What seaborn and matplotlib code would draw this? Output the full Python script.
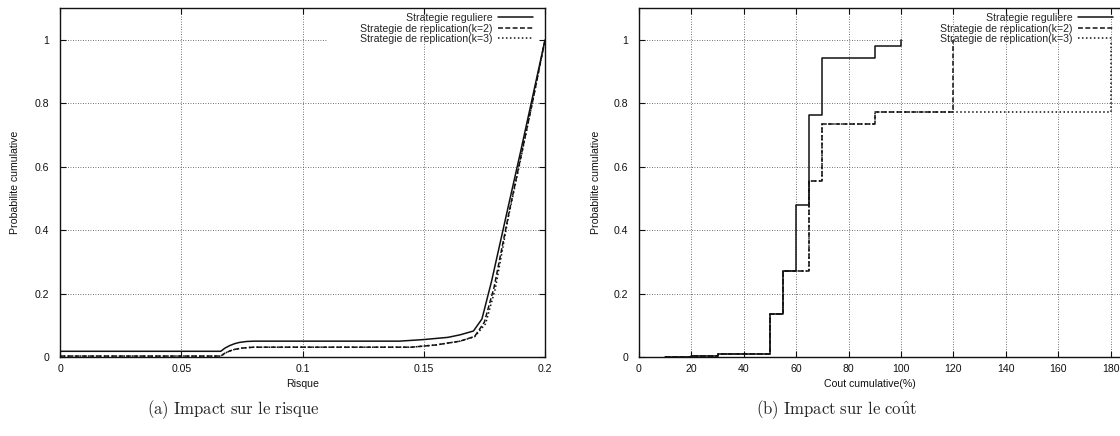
import matplotlib
matplotlib.use("Agg")
import matplotlib.pyplot as plt
import seaborn as sns
import pandas as pd
from matplotlib.lines import Line2D

# ---------------- (a) cumulative probability vs. risk ----------------
risk_regular_x = [0.0, 0.0663, 0.068, 0.070, 0.072, 0.074, 0.077, 0.080, 0.140,
                  0.150, 0.160, 0.165, 0.1705, 0.174, 0.178, 0.185, 0.190, 0.195, 0.200]
risk_regular_y = [0.018, 0.018, 0.028, 0.036, 0.042, 0.046, 0.049, 0.050, 0.050,
                  0.055, 0.062, 0.070, 0.082, 0.120, 0.240, 0.480, 0.650, 0.825, 1.000]

risk_k2_x = [0.0, 0.0663, 0.068, 0.070, 0.072, 0.075, 0.078, 0.080, 0.145,
             0.155, 0.165, 0.171, 0.175, 0.179, 0.185, 0.190, 0.195, 0.200]
risk_k2_y = [0.003, 0.003, 0.012, 0.019, 0.024, 0.028, 0.030, 0.031, 0.031,
             0.038, 0.050, 0.065, 0.110, 0.220, 0.450, 0.630, 0.810, 1.000]

risk_k3_x = [0.0, 0.0663, 0.068, 0.070, 0.072, 0.075, 0.078, 0.080, 0.145,
             0.155, 0.165, 0.171, 0.1755, 0.1795, 0.185, 0.190, 0.195, 0.200]
risk_k3_y = [0.003, 0.003, 0.012, 0.019, 0.024, 0.028, 0.030, 0.031, 0.031,
             0.038, 0.050, 0.064, 0.105, 0.215, 0.445, 0.625, 0.810, 1.000]

risk_xticks = [0, 0.05, 0.1, 0.15, 0.2]
risk_xticklabels = ["0", "0.05", "0.1", "0.15", "0.2"]

# ---------------- (b) cumulative probability vs. cumulative cost ----------------
cost_regular_x = [10, 20, 30, 50, 55, 60, 65, 70, 90, 100]
cost_regular_y = [0.0, 0.003, 0.009, 0.136, 0.272, 0.480, 0.763, 0.942, 0.981, 1.000]

cost_k2_x = [10, 20, 30, 50, 55, 65, 70, 90, 120]
cost_k2_y = [0.0, 0.003, 0.009, 0.136, 0.272, 0.555, 0.735, 0.773, 1.000]

cost_k3_x = [10, 20, 30, 50, 55, 65, 70, 90, 180]
cost_k3_y = [0.0, 0.003, 0.009, 0.136, 0.272, 0.555, 0.735, 0.773, 1.000]

cost_xticks = [0, 20, 40, 60, 80, 100, 120, 140, 160, 180]
cost_xticklabels = ["0", "20", "40", "60", "80", "100", "120", "140", "160", "180"]

prob_yticks = [0, 0.2, 0.4, 0.6, 0.8, 1.0]
prob_yticklabels = ["0", "0.2", "0.4", "0.6", "0.8", "1"]

series_names = ["Strategie reguliere",
                "Strategie de replication(k=2)",
                "Strategie de replication(k=3)"]

# ---------------- styling ----------------
sns.set_style("ticks")
plt.rcParams["font.family"] = ["Liberation Sans", "DejaVu Sans"]
plt.rcParams["mathtext.fontset"] = "cm"

INK = "#111111"
GRID = "#444444"
FS = 7.6
styles = ["-", (0, (3.2, 1.6)), (0, (1.0, 1.6))]

W, H = 1120, 436
fig = plt.figure(figsize=(W / 100, H / 100), dpi=100)
ax1 = fig.add_axes([60 / W, (H - 357) / H, 485 / W, 349 / H])
ax2 = fig.add_axes([639 / W, (H - 357) / H, 524 / W, 349 / H])


def frame(ax, xlim, xticks, xticklabels, y1_grid_end):
    ax.set_xlim(*xlim)
    ax.set_ylim(0, 1.101)
    ax.set_xticks(xticks)
    ax.set_xticklabels(xticklabels)
    ax.set_yticks(prob_yticks)
    ax.set_yticklabels(prob_yticklabels)
    ax.tick_params(direction="in", top=True, right=True, length=4, width=0.8,
                   labelsize=FS, colors=INK)
    ax.tick_params(axis="x", pad=5)
    ax.tick_params(axis="y", pad=8)
    for s in ax.spines.values():
        s.set_visible(True)
        s.set_linewidth(1.0)
        s.set_color(INK)
    # dotted grid; the y=1 line stops short of the key
    for xv in xticks[1:]:
        ax.axvline(xv, color=GRID, lw=0.6, ls=(0, (1, 2)), zorder=0.5)
    for yv in prob_yticks[1:]:
        ax.axhline(yv, xmax=(1.0 if yv < 1 else y1_grid_end),
                   color=GRID, lw=0.6, ls=(0, (1, 2)), zorder=0.5)


def draw(ax, xs, ys, steps):
    for x, y, name, ls in zip(xs, ys, series_names, styles):
        df = pd.DataFrame({"x": x, "y": y})
        kw = dict(drawstyle="steps-post") if steps else {}
        sns.lineplot(data=df, x="x", y="y", ax=ax, color=INK, lw=1.1,
                     linestyle=ls, sort=False, estimator=None, errorbar=None,
                     legend=False, **kw)


draw(ax1, [risk_regular_x, risk_k2_x, risk_k3_x],
     [risk_regular_y, risk_k2_y, risk_k3_y], steps=False)
draw(ax2, [cost_regular_x, cost_k2_x, cost_k3_x],
     [cost_regular_y, cost_k2_y, cost_k3_y], steps=True)

frame(ax1, (0, 0.2), risk_xticks, risk_xticklabels, (327 - 60) / 485)
frame(ax2, (0, 200), cost_xticks, cost_xticklabels, (903 - 639) / 524)

for ax in (ax1, ax2):
    ax.set_ylabel("Probabilite cumulative", fontsize=FS, color=INK)
ax1.set_xlabel("Risque", fontsize=FS, color=INK)
ax2.set_xlabel("Cout cumulative(%)", fontsize=FS, color=INK)
ax1.xaxis.set_label_coords(0.5, -0.063)
ax2.xaxis.set_label_coords((870 - 639) / 524, -0.063)
ax1.yaxis.set_label_coords((20 - 60) / 485, 0.5)
ax2.yaxis.set_label_coords((601 - 639) / 524, 0.5)

handles = [Line2D([], [], color=INK, lw=1.1, ls=ls) for ls in styles]
for anchor_x in (533, 1113):
    fig.legend(handles, series_names, loc="upper right",
               bbox_to_anchor=(anchor_x / W, (H - 13) / H),
               bbox_transform=fig.transFigure, frameon=False, markerfirst=False,
               fontsize=FS, handlelength=3.3, handletextpad=0.5,
               labelspacing=0.05, borderpad=0, borderaxespad=0)

fig.text(233 / W, 1 - 410 / H, r"$\mathrm{(a)\ Impact\ sur\ le\ risque}$",
         ha="center", va="center", fontsize=12.1)
fig.text(837 / W, 1 - 410 / H, r"$\mathrm{(b)\ Impact\ sur\ le\ co\hat{u}t}$",
         ha="center", va="center", fontsize=12.1)

fig.savefig("out.png", dpi=100)
